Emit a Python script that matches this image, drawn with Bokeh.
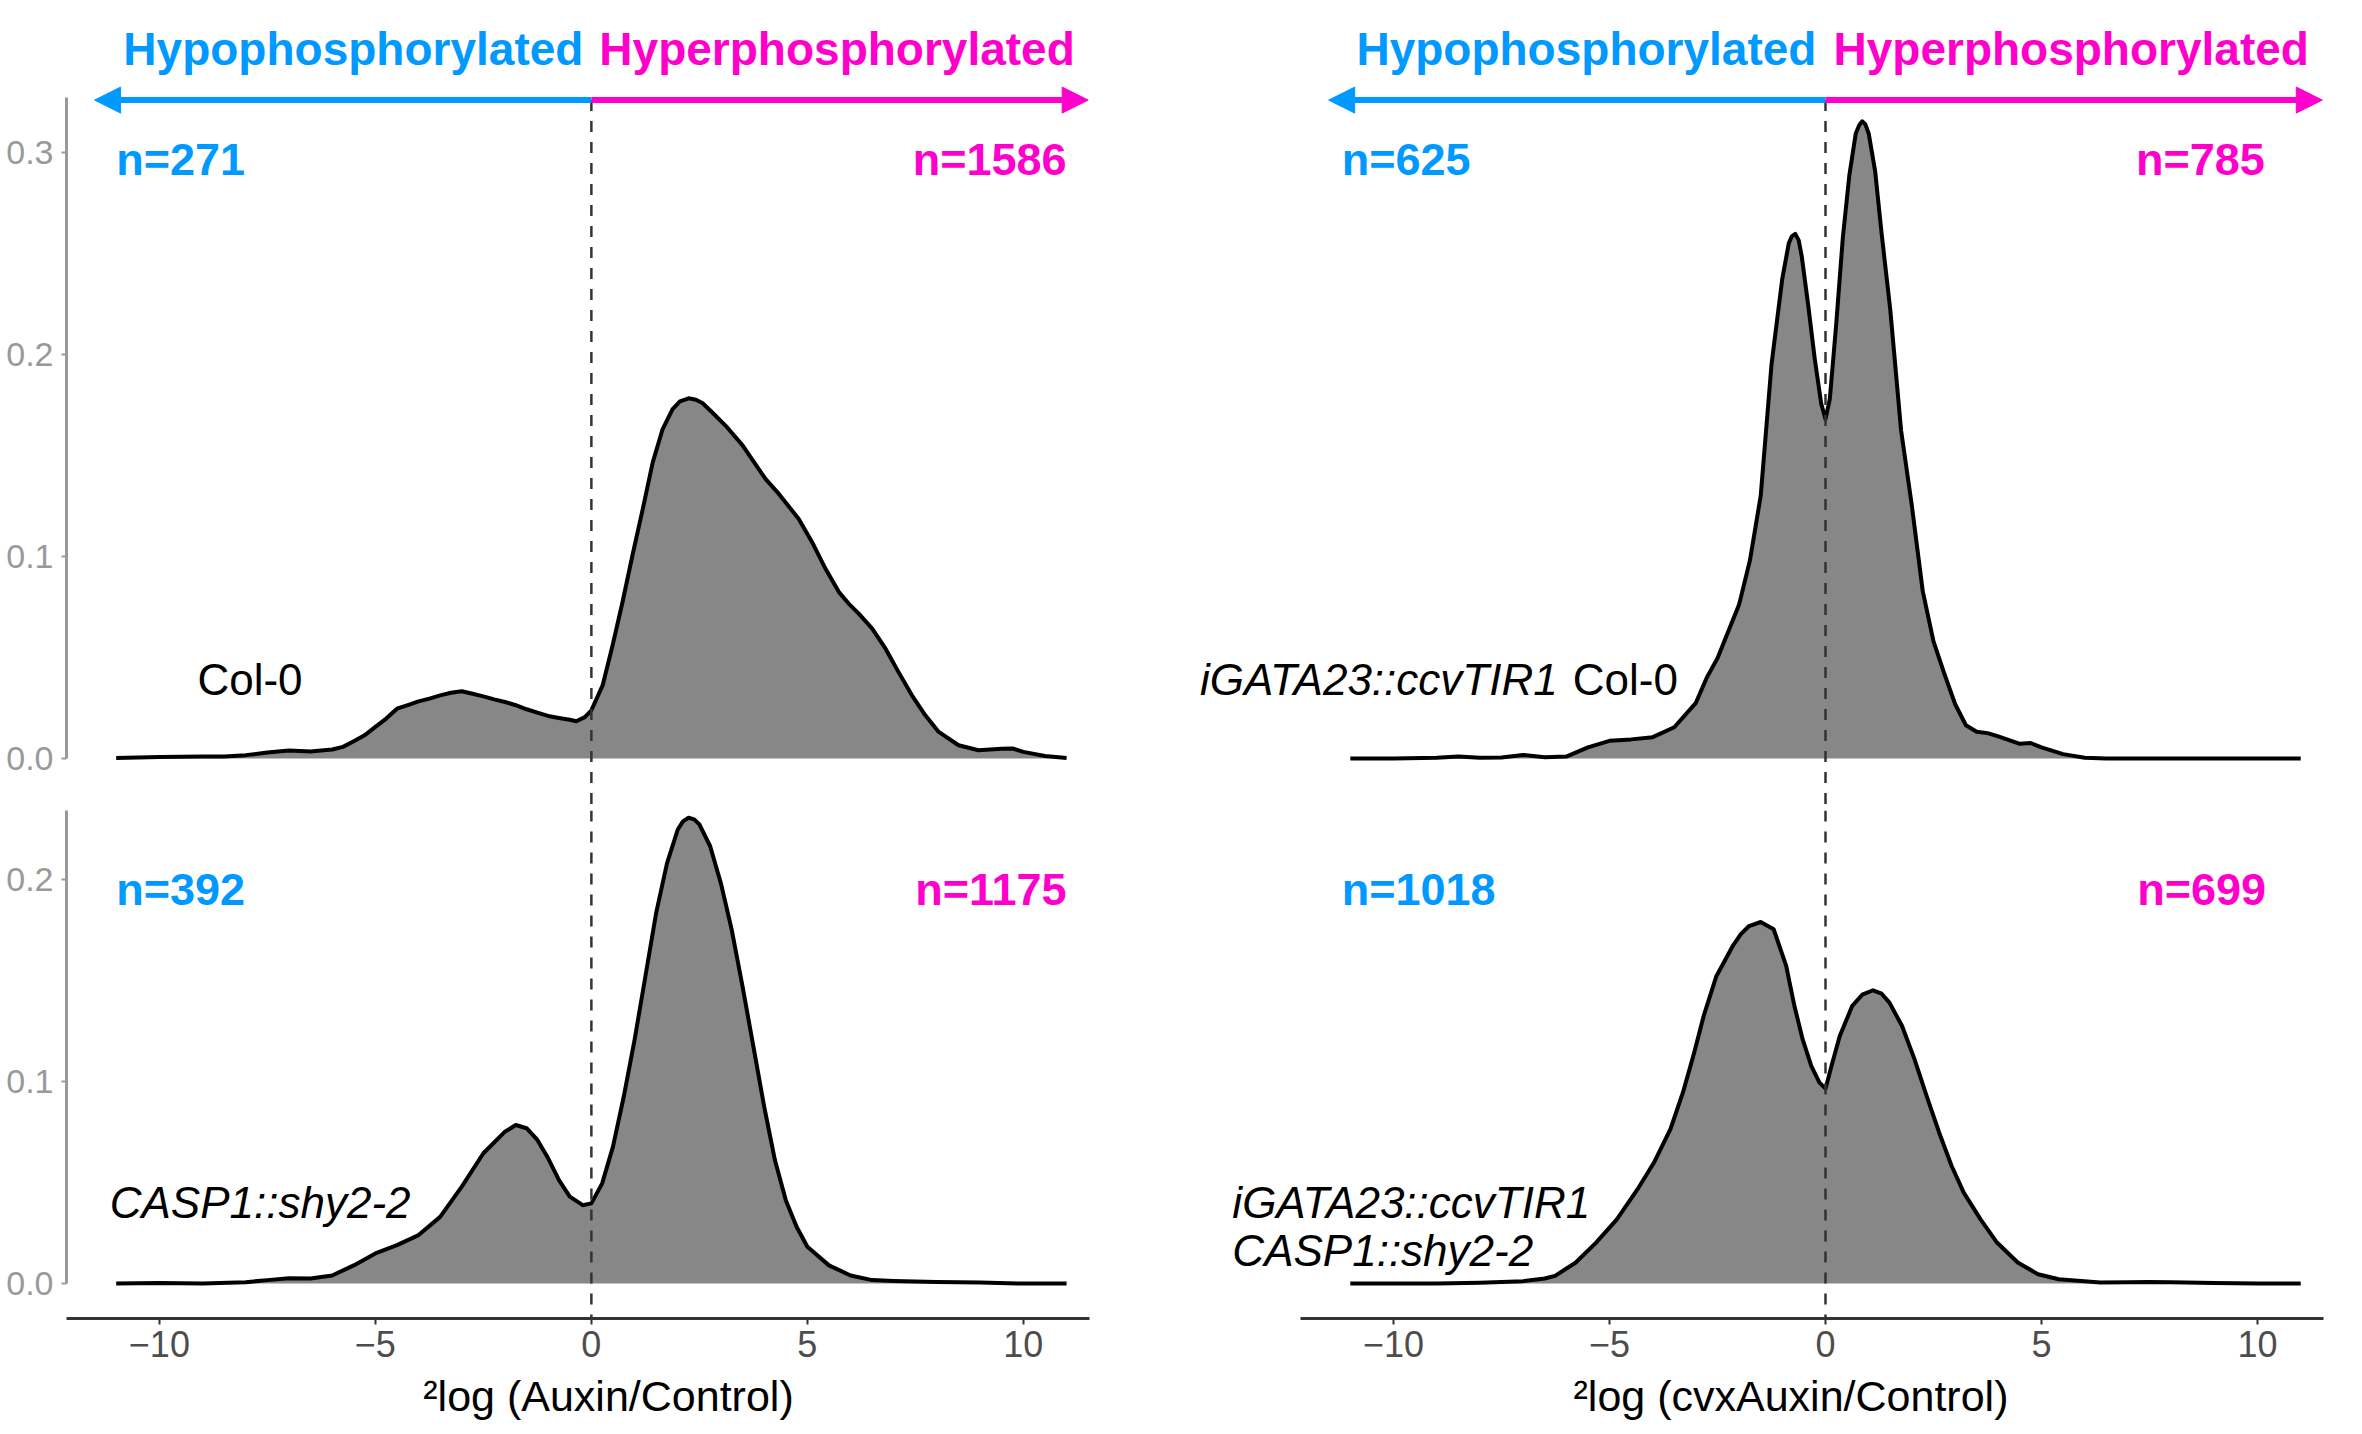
from bokeh.plotting import figure
from bokeh.models import (Range1d, FixedTicker, PrintfTickFormatter, Span, Label,
                          Arrow, NormalHead)
from bokeh.layouts import row, column
from bokeh.embed import file_html
from bokeh.resources import INLINE

FONT = "Liberation Sans"
BLUE = "#0099FF"
PINK = "#FF00CC"
FILL = "#878787"

# density curves (x = 2log ratio, y = density)
x_col0 = [-11, -10, -9, -8.5, -8, -7.5, -7, -6.5, -6, -5.75, -5.5, -5.25, -5, -4.75,
          -4.5, -4.25, -4, -3.75, -3.5, -3.25, -3, -2.75, -2.5, -2.25, -2, -1.75, -1.5,
          -1.25, -1, -0.75, -0.5, -0.35, -0.15, 0, 0.26, 0.49, 0.72, 0.95, 1.19, 1.42,
          1.65, 1.88, 2.05, 2.25, 2.42, 2.57, 2.8, 3.11, 3.5, 4.03, 4.34, 4.8, 5.11,
          5.42, 5.73, 5.96, 6.19, 6.5, 6.81, 7.11, 7.42, 7.73, 8.04, 8.5, 8.96, 9.5,
          9.75, 10, 10.5, 11]
y_col0 = [0.0003, 0.0008, 0.001, 0.001, 0.0017, 0.003, 0.004, 0.0035, 0.0045, 0.0058,
          0.0086, 0.0115, 0.0157, 0.0198, 0.0247, 0.0265, 0.0283, 0.0297, 0.0313, 0.0326,
          0.0333, 0.0321, 0.0308, 0.0293, 0.028, 0.0264, 0.0244, 0.0227, 0.0211, 0.0201,
          0.0192, 0.0185, 0.0205, 0.0239, 0.0362, 0.056, 0.0774, 0.1005, 0.1236, 0.1466,
          0.1631, 0.173, 0.1768, 0.1783, 0.1776, 0.176, 0.1713, 0.1647, 0.155, 0.1384,
          0.131, 0.1186, 0.1071, 0.0939, 0.0824, 0.0766, 0.0717, 0.0643, 0.0544, 0.0428,
          0.0313, 0.0214, 0.0132, 0.0066, 0.0041, 0.0049, 0.005, 0.0033, 0.0013, 0.0003]

x_shy = [-11, -10, -9, -8, -7.5, -7, -6.5, -6, -5.5, -5, -4.5, -4, -3.5, -3, -2.5, -2,
         -1.75, -1.5, -1.25, -1, -0.75, -0.5, -0.2, 0, 0.25, 0.5, 0.75, 1, 1.25, 1.5,
         1.75, 2, 2.12, 2.25, 2.38, 2.5, 2.75, 3, 3.25, 3.5, 3.75, 4, 4.25, 4.5, 4.75, 5,
         5.5, 6, 6.5, 7, 8, 9, 10, 11]
y_shy = [0, 0.0003, 0, 0.0007, 0.0017, 0.0026, 0.0025, 0.004, 0.009, 0.0149, 0.019,
         0.024, 0.033, 0.048, 0.0645, 0.0752, 0.0785, 0.0769, 0.0711, 0.062, 0.0512,
         0.043, 0.0388, 0.0397, 0.0496, 0.0678, 0.0926, 0.1207, 0.152, 0.1835, 0.208,
         0.2248, 0.2288, 0.2306, 0.2298, 0.2273, 0.2165, 0.198, 0.175, 0.147, 0.1174,
         0.0876, 0.061, 0.0413, 0.0281, 0.0182, 0.009, 0.004, 0.0017, 0.0013, 0.0008,
         0.0005, 0, 0]

x_tir = [-11, -10, -9, -8.5, -8, -7.5, -7, -6.5, -6, -5.5, -5, -4.5, -4, -3.5, -3,
         -2.75, -2.5, -2, -1.75, -1.5, -1.25, -1, -0.85, -0.78, -0.7, -0.62, -0.55, -0.4,
         -0.25, -0.1, 0, 0.1, 0.25, 0.4, 0.55, 0.7, 0.78, 0.85, 0.92, 1.0, 1.15, 1.3,
         1.5, 1.75, 2, 2.25, 2.5, 2.75, 3, 3.25, 3.5, 3.75, 4, 4.5, 4.75, 5, 5.5, 6, 6.5,
         7, 8, 9, 10, 11]
y_tir = [0, 0, 0.0004, 0.001, 0.0004, 0.0005, 0.0018, 0.0006, 0.001, 0.0055, 0.0088,
         0.0095, 0.0106, 0.0155, 0.0276, 0.04, 0.0497, 0.0762, 0.098, 0.13, 0.195, 0.2376,
         0.255, 0.2585, 0.2597, 0.2565, 0.2486, 0.2243, 0.198, 0.1757, 0.168, 0.178,
         0.2155, 0.2575, 0.2884, 0.3094, 0.3135, 0.3154, 0.314, 0.3094, 0.2906, 0.2597,
         0.222, 0.1624, 0.125, 0.083, 0.058, 0.042, 0.027, 0.0165, 0.0133, 0.0126, 0.011,
         0.0073, 0.0077, 0.0055, 0.0022, 0.0004, 0, 0, 0, 0, 0, 0]

x_tir_shy = [-11, -10, -9, -8, -7.5, -7, -6.5, -6.26, -5.78, -5.31, -4.83, -4.35, -3.97,
             -3.59, -3.3, -3.06, -2.82, -2.53, -2.15, -1.96, -1.77, -1.5, -1.2, -0.91,
             -0.72, -0.53, -0.33, -0.14, 0, 0.14, 0.33, 0.62, 0.85, 1.1, 1.3, 1.48, 1.77,
             2.06, 2.34, 2.63, 2.92, 3.2, 3.59, 3.97, 4.45, 4.92, 5.4, 6.36, 7, 7.5, 8, 9,
             10, 11]
y_tir_shy = [0, 0, 0, 0.0004, 0.0008, 0.0012, 0.0025, 0.0038, 0.0104, 0.0203, 0.0318,
             0.0467, 0.0599, 0.0764, 0.0946, 0.1127, 0.1325, 0.152, 0.167, 0.173, 0.177,
             0.179, 0.1754, 0.1573, 0.1375, 0.121, 0.1078, 0.0995, 0.0965, 0.1078, 0.1226,
             0.1375, 0.143, 0.1452, 0.1435, 0.1391, 0.1276, 0.1111, 0.0929, 0.0748, 0.0582,
             0.045, 0.0318, 0.0203, 0.0104, 0.0046, 0.0021, 0.0005, 0.0006, 0.0008, 0.0006,
             0.0003, 0, 0]

# counts of hypo / hyper sites per panel: Col-0, shy2-2, TIR1 Col-0, TIR1 shy2-2
n_hypo = [271, 392, 625, 1018]
n_hyper = [1586, 1175, 785, 699]

X_AXIS = (-12.15, 11.53)          # extent of the drawn x axis line
PX = 43.2                         # pixels per x unit, same in every panel
TOP_Y = (-0.0257, 0.3752)
BOT_Y = (-0.0173, 0.2342)
ARROW_Y = 0.3259


def panel(xs, ys, width, height, x_start, y_range, borders, show_y, xlabel, y_ticks):
    left, right, top, bottom = borders
    x_end = x_start + (width - left - right) / PX
    p = figure(width=width, height=height,
               x_range=Range1d(x_start, x_end), y_range=Range1d(*y_range),
               output_backend="svg", toolbar_location=None,
               x_axis_location="below" if xlabel else None,
               y_axis_location="left" if show_y else None,
               min_border_left=left, min_border_right=right,
               min_border_top=top, min_border_bottom=bottom)
    p.grid.visible = False
    p.outline_line_color = None

    p.varea(x=xs, y1=0, y2=ys, fill_color=FILL)
    p.line(xs, ys, line_color="black", line_width=4, line_join="round")

    if show_y:
        ax = p.yaxis[0]
        ax.ticker = FixedTicker(ticks=y_ticks)
        ax.formatter = PrintfTickFormatter(format="%.1f")
        ax.bounds = (0, 0.3272 if y_range is TOP_Y else y_range[1])
        ax.axis_line_color = "#999999"
        ax.axis_line_width = 3
        ax.major_tick_line_color = "#999999"
        ax.major_tick_line_width = 2
        ax.major_tick_out = 5
        ax.major_tick_in = 0
        ax.minor_tick_line_color = None
        ax.major_label_text_color = "#999999"
        ax.major_label_text_font = FONT
        ax.major_label_text_font_size = "34px"
        ax.major_label_standoff = 8

    if xlabel:
        p.add_layout(Span(location=0, dimension="height", line_color="#333333",
                          line_width=2.5, line_dash="11 10"))
        ax = p.xaxis[0]
        ax.bounds = X_AXIS
        ax.ticker = FixedTicker(ticks=[-10, -5, 0, 5, 10])
        ax.major_label_overrides = {-10: "\u221210", -5: "\u22125"}
        ax.axis_line_color = "#333333"
        ax.axis_line_width = 3
        ax.major_tick_line_color = "#333333"
        ax.major_tick_line_width = 2
        ax.major_tick_out = 6
        ax.major_tick_in = 0
        ax.minor_tick_line_color = None
        ax.major_label_text_color = "#4D4D4D"
        ax.major_label_text_font = FONT
        ax.major_label_text_font_size = "36px"
        ax.major_label_standoff = 6
        ax.axis_label = xlabel
        ax.axis_label_text_font = FONT
        ax.axis_label_text_font_size = "43px"
        ax.axis_label_text_font_style = "normal"
        ax.axis_label_text_color = "black"
        ax.axis_label_standoff = 12
    else:
        # dashed zero line starts at the arrows and runs on into the lower row
        p.segment(x0=[0], y0=[ARROW_Y], x1=[0], y1=[y_range[0]], line_color="#333333",
                  line_width=2.5, line_dash="11 10")
    return p


def label(p, x, y, text, color="black", size="44px", style="normal", align="left"):
    p.add_layout(Label(x=x, y=y, text=text, text_color=color, text_font=FONT,
                       text_font_size=size, text_font_style=style, text_align=align,
                       text_baseline="middle"))


def header(p, left_end):
    # direction arrows and their captions above each column
    p.add_layout(Arrow(end=NormalHead(size=26, fill_color=BLUE, line_color=BLUE, line_width=1),
                       x_start=0, y_start=ARROW_Y, x_end=-11.5, y_end=ARROW_Y,
                       line_color=BLUE, line_width=6))
    p.add_layout(Arrow(end=NormalHead(size=26, fill_color=PINK, line_color=PINK, line_width=1),
                       x_start=0, y_start=ARROW_Y, x_end=11.5, y_end=ARROW_Y,
                       line_color=PINK, line_width=6))
    label(p, left_end, 0.351, "Hypophosphorylated", BLUE, "46px", "bold", "right")
    label(p, 0.185, 0.351, "Hyperphosphorylated", PINK, "46px", "bold", "left")


tl = panel(x_col0, y_col0, 1150, 810, -12.15, TOP_Y, (66, 0, 0, 0), True, None,
           [0, 0.1, 0.2, 0.3])
tr = panel(x_tir, y_tir, 1206, 810, -675 / PX, TOP_Y, (0, 0, 0, 0), False, None, None)
bl = panel(x_shy, y_shy, 1150, 620, -12.15, BOT_Y, (66, 0, 0, 112), True,
           "\u00b2log (Auxin/Control)", [0, 0.1, 0.2])
br = panel(x_tir_shy, y_tir_shy, 1206, 620, -600 / PX, BOT_Y, (75, 0, 0, 112), False,
           "\u00b2log (cvxAuxin/Control)", None)

header(tl, -0.185)
header(tr, -0.21)

label(tl, -11.0, 0.2963, "n=%d" % n_hypo[0], BLUE, "45px", "bold", "left")
label(tl, 11.0, 0.2963, "n=%d" % n_hyper[0], PINK, "45px", "bold", "right")
label(bl, -11.0, 0.1953, "n=%d" % n_hypo[1], BLUE, "45px", "bold", "left")
label(bl, 11.0, 0.1953, "n=%d" % n_hyper[1], PINK, "45px", "bold", "right")
label(tr, -11.2, 0.2963, "n=%d" % n_hypo[2], BLUE, "45px", "bold", "left")
label(tr, 10.17, 0.2963, "n=%d" % n_hyper[2], PINK, "45px", "bold", "right")
label(br, -11.2, 0.1953, "n=%d" % n_hypo[3], BLUE, "45px", "bold", "left")
label(br, 10.2, 0.1953, "n=%d" % n_hyper[3], PINK, "45px", "bold", "right")

# genotype names
label(tl, -9.12, 0.039, "Col-0")
label(bl, -11.15, 0.0399, "CASP1::shy2-2", style="italic")
label(tr, -6.2, 0.039, "iGATA23::ccvTIR1", style="italic", align="right")
label(tr, -5.85, 0.039, "Col-0")
label(br, -13.73, 0.0399, "iGATA23::ccvTIR1", style="italic")
label(br, -13.73, 0.0163, "CASP1::shy2-2", style="italic")

layout = column(row(tl, tr, spacing=0), row(bl, br, spacing=0), spacing=0)

open("out.html", "w").write(file_html(layout, INLINE))
